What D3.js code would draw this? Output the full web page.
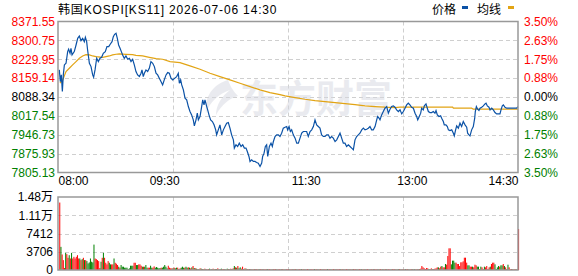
<!DOCTYPE html>
<html>
<head>
<meta charset="utf-8">
<script src="https://cdn.jsdelivr.net/npm/d3@7"></script>
<style>
body { margin: 0; background: #fff; }
text { font-family: Arial, "Liberation Sans", "Noto Sans CJK SC", sans-serif; font-size: 12px; }
</style>
</head>
<body>
<div id="chart"></div>
<script>
// Chart texts & ticks
var titleText = "韩国KOSPI[KS11] 2026-07-06 14:30";
var legendNames = ["价格", "均线"];
var prevClose = 8088.34;
var priceTicks = [8371.55, 8300.75, 8229.95, 8159.14, 8088.34, 8017.54, 7946.73, 7875.93, 7805.13];
var pctTicks = ["3.50%", "2.63%", "1.75%", "0.88%", "0.00%", "0.88%", "1.75%", "2.63%", "3.50%"];
var timeTicks = [0, 90, 210, 300, 390];
var timeLabels = ["08:00", "09:30", "11:30", "13:00", "14:30"];
var volTicks = [0, 3706, 7412, 11118, 14824];
var volLabels = ["0", "3706", "7412", "1.11万", "1.48万"];

// Price: [minutes since 08:00, index value]
var price = [
  [1.1,8189.9],[2.0,8146.2],[2.8,8171.2],[3.7,8108.7],[4.5,8171.2],[5.4,8208.6],[6.8,8214.9],[8.2,8258.6],[9.0,8267.3],[10.2,8252.3],
  [11.0,8271.1],[11.9,8246.1],[13.8,8258.6],[15.3,8283.5],[16.7,8308.5],[18.1,8317.3],[19.5,8299.8],[20.9,8308.5],[22.3,8296.0],[23.2,8312.3],
  [24.3,8296.0],[25.1,8264.8],[26.6,8214.9],[28.0,8202.4],[29.4,8171.2],[30.2,8162.4],[31.4,8189.9],[32.8,8233.6],[34.2,8221.1],[35.6,8233.6],
  [37.0,8237.3],[38.4,8252.3],[40.1,8258.6],[41.5,8277.3],[43.0,8277.3],[44.4,8287.3],[45.8,8296.0],[46.9,8314.8],[48.0,8323.5],[49.2,8327.3],
  [50.3,8308.5],[51.4,8283.5],[52.6,8271.1],[53.7,8258.6],[54.8,8246.1],[56.2,8233.6],[57.6,8242.3],[59.1,8229.9],[60.5,8233.6],[61.9,8221.1],
  [63.3,8229.9],[64.7,8208.6],[66.1,8183.7],[67.5,8171.2],[69.0,8164.9],[70.4,8177.4],[71.2,8189.9],[72.3,8164.9],[73.2,8177.4],[74.6,8189.9],
  [76.0,8183.7],[77.4,8196.1],[78.8,8221.1],[80.3,8214.9],[81.7,8202.4],[83.1,8177.4],[84.5,8171.2],[85.9,8158.7],[87.3,8146.2],[88.7,8133.7],
  [90.1,8152.4],[91.6,8171.2],[93.0,8179.9],[94.4,8177.4],[95.8,8158.7],[97.2,8152.4],
  [100.6,8164.9],[102.0,8177.4],[102.9,8139.9],[104.0,8152.4],[104.9,8133.7],[106.3,8115.0],[107.7,8083.8],[109.1,8077.5],[110.5,8052.5],[111.9,8033.8],
  [113.3,8021.3],[114.7,8002.6],[115.6,7980.1],[117.0,8002.6],[118.1,8027.6],[119.0,8002.6],[120.4,8015.1],[121.8,8052.5],[122.7,8077.5],[123.8,8058.8],
  [124.6,8077.5],[126.1,8052.5],[126.9,8040.1],[128.0,8021.3],[129.4,8002.6],[130.9,7996.3],[132.3,7983.9],[133.7,7965.1],[134.5,7946.4],[135.9,7965.1],
  [137.3,7983.9],[138.8,7946.4],[140.2,7965.1],[141.6,7977.6],[143.0,7990.1],[144.4,7992.6],[145.8,7971.4],[147.2,7946.4],[148.7,7927.7],[149.5,7896.5],
  [150.9,7908.9],[152.3,7902.7],[153.7,7915.2],[155.2,7902.7],[156.6,7908.9],[158.0,7896.5],[159.4,7896.5],[160.5,7884.0],[161.9,7865.2],[162.8,7846.5],
  [164.2,7852.7],[165.6,7846.5],[167.0,7846.5],[168.4,7842.8],[169.8,7840.3],[171.3,7827.8],[172.7,7840.3],[173.5,7865.2],[174.7,7877.7],[175.8,7902.7],
  [176.9,7908.9],[177.8,7865.2],[179.2,7902.7],[180.6,7915.2],[181.7,7902.7],[182.6,7921.4],[184.0,7940.2],[185.4,7946.4],[186.8,7946.4],[188.2,7940.2],
  [189.6,7952.6],[191.0,7971.4],[192.5,7975.1],
  [193.9,7977.6],[194.7,7965.1],[195.9,7977.6],[197.0,7958.9],[198.1,7965.1],[199.5,7946.4],[201.0,7933.9],[202.4,7915.2],[203.8,7915.2],[205.2,7933.9],
  [206.6,7952.6],[208.0,7958.9],[209.4,7958.9],[210.8,7958.9],[212.2,7940.2],[213.7,7958.9],[215.1,7965.1],[216.5,7977.6],[217.9,8002.6],[219.3,7983.9],
  [220.7,7977.6],[222.1,7971.4],[223.5,7946.4],[225.0,7940.2],[226.4,7940.2],[227.8,7946.4],[229.2,7946.4],[230.6,7933.9],[232.0,7940.2],[233.4,7933.9],
  [234.9,7921.4],[236.3,7927.7],[237.7,7940.2],[239.1,7952.6],[240.5,7933.9],[241.9,7915.2],[243.3,7915.2],[244.7,7902.7],[246.2,7908.9],[247.6,7902.7],
  [249.0,7896.5],[250.4,7890.2],[251.8,7927.7],[253.2,7940.2],[254.6,7946.4],[256.0,7952.6],[257.5,7965.1],[258.9,7971.4],[260.3,7965.1],[261.7,7967.6],
  [263.1,7971.4],[264.5,7977.6],[265.9,7965.1],[267.3,7965.1],[268.8,7977.6],[270.2,8002.6],[271.0,8015.1],[272.2,8008.8],[273.0,8002.6],[274.4,8021.3],
  [275.8,8033.8],[277.2,8046.3],[278.7,8052.5],[280.1,8027.6],[281.5,8042.5],[282.9,8052.5],[284.3,8055.0],[285.7,8050.0],[287.1,8040.1],[288.6,8033.8],
  [290.0,8040.1],
  [291.4,8025.1],[292.8,8033.8],[294.2,8046.3],[295.6,8058.8],[297.0,8065.0],[298.4,8058.8],[299.8,8050.0],[301.3,8046.3],[302.7,8027.6],[304.1,8015.1],
  [305.0,8002.6],[306.3,8015.1],[307.5,8027.6],[308.3,8046.3],[309.7,8040.1],[310.6,8055.0],[312.0,8062.5],[313.1,8046.3],[314.0,8033.8],[315.4,8030.1],
  [316.8,8030.1],[318.2,8033.8],[319.6,8027.6],[320.5,8037.6],[321.6,8021.3],[323.0,8015.1],[324.4,8017.6],[325.3,8008.8],[326.7,7996.3],[327.5,7983.9],
  [328.9,7983.9],[330.1,7977.6],[331.0,7965.1],[332.3,7962.6],[333.8,7965.1],[335.2,7952.6],[336.0,7942.7],[337.1,7965.1],[338.0,7980.1],[339.4,7971.4],
  [340.8,7990.1],[342.2,7977.6],[343.6,7996.3],[345.1,7983.9],[346.5,7975.1],[347.3,7952.6],[348.4,7946.4],[349.3,7942.7],[350.7,7965.1],[352.1,7977.6],
  [353.3,8008.8],[353.8,8033.8],[354.7,8052.5],[355.8,8042.5],[356.9,8037.6],[357.8,8046.3],[359.2,8050.0],[360.6,8055.0],[362.0,8062.5],[362.9,8065.0],
  [364.0,8055.0],[365.4,8050.0],[366.3,8040.1],[367.7,8046.3],[369.1,8040.1],[370.5,8030.1],[371.9,8025.1],[373.3,8025.1],[374.7,8025.1],[375.6,8040.1],
  [376.7,8055.0],[377.6,8058.8],[379.0,8050.0],[380.4,8046.3],[383.2,8046.3],[386.0,8046.3],[388.9,8046.3],[390.0,8052.5]
];

// Average line: [minutes since 08:00, value]
var avgLine = [
  [1.7,8140.0],[4.0,8152.4],[6.8,8183.7],[9.6,8196.1],[12.4,8208.6],[15.3,8221.1],[18.1,8233.6],[20.9,8242.3],[23.7,8247.3],[26.6,8246.1],
  [29.4,8242.3],[32.2,8239.8],[37.9,8237.3],[40.7,8239.8],[43.5,8242.3],[46.3,8246.1],[49.2,8248.6],[52.0,8249.8],[57.6,8248.6],[63.3,8247.3],
  [66.1,8244.8],[71.8,8242.3],[77.4,8237.3],[83.1,8232.3],[88.7,8229.9],[95.0,8221.1],[103.4,8217.4],[111.9,8204.9],[120.4,8192.4],[128.9,8177.4],
  [137.3,8164.9],[145.8,8152.4],[154.3,8139.9],[162.8,8127.5],[171.3,8115.0],[179.7,8105.0],[188.2,8097.5],[192.5,8092.5],[201.0,8086.3],[209.4,8080.0],
  [217.9,8075.0],[226.4,8071.3],[234.9,8067.5],[243.3,8063.8],[251.8,8060.0],[260.3,8055.0],[268.8,8052.5],[277.2,8050.0],[285.7,8048.8],[290.0,8050.0],
  [334.6,8050.0],[335.2,8046.3],[350.7,8046.3],[352.1,8042.5],[390.0,8042.5]
];

// Volume per minute (positive = up bar / red, negative = down bar / green)
var volume = [
  13700,-4700,3150,2000,400,-3480,3220,2480,-3010,2340,
  -3480,2340,2680,2340,2680,3010,2340,-2340,2010,-2210,
  2480,-2010,2010,-1810,-1340,-1540,-2340,-1680,-1540,-5160,
  2340,2210,2010,1810,400,-1680,2480,-3480,2480,1470,
  1140,1810,-1470,-1140,1140,1140,-2340,1470,1270,1010,
  -670,470,-1010,-670,-670,-470,-470,-470,-200,-340,
  -870,-870,-870,1470,1470,-1010,-1010,1140,1140,870,
  -670,670,-670,-1010,-470,470,470,-870,-470,470,
  740,-470,-600,-470,-340,-400,470,-470,-670,-1010,
  -670,-340,870,470,340,340,-340,470,-340,-470,
  470,-200,340,-470,-670,-470,470,-670,-470,540,
  -470,340,-540,810,-400,340,-270,200,-200,340,
  -270,200,-140,270,-200,140,200,-270,140,-200,
  270,-140,200,-200,340,-140,200,-270,140,200,
  -200,140,-270,200,-140,270,-200,340,-810,540,
  -470,810,-340,-540,270,680,-200,340,-270,200,
  140,-200,200,-140,140,200,-140,200,140,-200,
  200,140,-140,200,140,200,-200,140,200,140,
  -140,200,140,200,-140,140,200,140,-140,200,
  140,-140,200,140,200,-140,140,200,-140,140,
  200,-140,140,200,140,-200,140,200,-140,140,
  200,140,-140,200,140,140,-200,140,200,-140,
  140,200,140,-140,200,140,140,-200,140,200,
  -140,140,200,140,-140,200,140,200,-140,140,
  200,-140,140,200,140,-140,200,140,-140,200,
  140,200,-140,140,200,140,-200,140,200,-140,
  140,200,140,-140,200,140,-140,200,140,200,
  -140,140,200,140,-200,140,200,-140,140,200,
  140,-140,200,140,200,-140,140,-200,200,140,
  -140,200,140,-200,140,200,-140,140,200,-140,
  140,-200,140,200,-140,200,270,810,540,340,
  200,410,340,-200,-140,340,-140,200,270,340,
  540,-540,340,680,-810,540,540,-1220,1080,2840,
  4400,4400,-1150,-1900,-1900,-1490,1490,1220,1220,810,
  1560,1560,1760,2500,2500,1490,-950,-950,680,680,
  -680,540,1080,950,-680,-680,200,-680,540,200,
  -680,540,810,200,540,-680,1220,1490,1490,-1150,
  -200,-540,-810,680,-950,-950,1220,-810,540,200,
  -1080,540,140,200,-140,140,200,-140,140,8320
];

// Size of svg & panels
var svgWidth = 578;
var svgHeight = 276;
var plotLeft = 58;
var plotRight = 518;
var priceTop = 21.5;
var priceBottom = 172.5;
var volTop = 197;
var volBottom = 270;

var upColor = "#ff0000";
var downColor = "#008000";
var flatColor = "#000000";
var lineColor = "#0b52a6";
var avgColor = "#e2a414";

var svg = d3.select("#chart")
    .append("svg")
    .attr("width", svgWidth)
    .attr("height", svgHeight);

// Scales
var xScale = d3.scaleLinear().domain([0, 390]).range([plotLeft, plotRight]);
var yPrice = d3.scaleLinear().domain([priceTicks[8], priceTicks[0]]).range([priceBottom, priceTop]);
var yVol = d3.scaleLinear().domain([0, volTicks[4]]).range([volBottom, volTop]);

function tickColor(v) {
    if (Math.abs(v - prevClose) < 0.01) return flatColor;
    return v > prevClose ? upColor : downColor;
}

// Dashed grid lines
var gridGroup = svg.append("g")
    .attr("stroke", "#cfcfcf")
    .attr("stroke-dasharray", "4,3")
    .attr("stroke-width", 1);

var vGrid = d3.range(1, 4).map(i => 390 * i / 4);

gridGroup.selectAll(".hp")
    .data(priceTicks.slice(1, 8))
    .enter()
    .append("line")
    .attr("x1", plotLeft).attr("x2", plotRight)
    .attr("y1", d => Math.round(yPrice(d)) + 0.5)
    .attr("y2", d => Math.round(yPrice(d)) + 0.5);

gridGroup.selectAll(".hv")
    .data(volTicks.slice(1, 4))
    .enter()
    .append("line")
    .attr("x1", plotLeft).attr("x2", plotRight)
    .attr("y1", d => Math.round(yVol(d)) + 0.5)
    .attr("y2", d => Math.round(yVol(d)) + 0.5);

gridGroup.selectAll(".vp")
    .data(vGrid)
    .enter()
    .append("line")
    .attr("x1", d => Math.round(xScale(d)) + 0.5)
    .attr("x2", d => Math.round(xScale(d)) + 0.5)
    .attr("y1", priceTop).attr("y2", priceBottom);

gridGroup.selectAll(".vv")
    .data(vGrid)
    .enter()
    .append("line")
    .attr("x1", d => Math.round(xScale(d)) + 0.5)
    .attr("x2", d => Math.round(xScale(d)) + 0.5)
    .attr("y1", volTop).attr("y2", volBottom);

// Watermark
var mark = svg.append("g").attr("opacity", 0.5);
mark.append("path")
    .attr("d", "M228,80 C214,84 204,96 206,113 C210,102 218,94 230,90 C222,96 216,105 216,115 C222,104 230,98 238,96 C232,90 230,85 228,80 Z")
    .attr("fill", "#d5d7e0");
mark.append("text")
    .attr("x", 240)
    .attr("y", 112)
    .attr("fill", "#d5d7e0")
    .style("font-family", "'Noto Sans CJK SC', sans-serif")
    .style("font-size", "38px")
    .style("font-weight", "bold")
    .text("东方财富");

// Volume bars
svg.append("g")
    .selectAll("rect")
    .data(volume)
    .enter()
    .append("rect")
    .attr("x", (d, i) => xScale(i + 1.5) - 0.5)
    .attr("width", 1)
    .attr("y", d => yVol(Math.abs(d)))
    .attr("height", d => volBottom - yVol(Math.abs(d)))
    .attr("fill", d => d >= 0 ? upColor : downColor);

// Average & price lines
var line = d3.line()
    .x(d => xScale(d[0]))
    .y(d => yPrice(d[1]));

svg.append("path")
    .datum(avgLine)
    .attr("d", line)
    .attr("fill", "none")
    .attr("stroke", avgColor)
    .attr("stroke-width", 1.2);

svg.append("path")
    .datum(price)
    .attr("d", line)
    .attr("fill", "none")
    .attr("stroke", lineColor)
    .attr("stroke-width", 1.2);

// Panel borders
[[priceTop, priceBottom], [volTop, volBottom]].forEach(p => {
    svg.append("rect")
        .attr("x", plotLeft)
        .attr("y", p[0])
        .attr("width", plotRight - plotLeft)
        .attr("height", p[1] - p[0])
        .attr("fill", "none")
        .attr("stroke", "#999")
        .attr("stroke-width", 1.5);
});

// Left price axis
var leftAxis = d3.axisLeft(yPrice).tickValues(priceTicks).tickSize(0).tickPadding(3)
    .tickFormat(d3.format(".2f"));
var gLeft = svg.append("g")
    .attr("transform", `translate(${plotLeft}, 0)`)
    .call(leftAxis);
gLeft.select(".domain").remove();
gLeft.selectAll("text").attr("fill", d => tickColor(d)).style("font-size", "12px");

// Right percent axis
var rightAxis = d3.axisRight(yPrice).tickValues(priceTicks).tickSize(0).tickPadding(6)
    .tickFormat((d, i) => pctTicks[i]);
var gRight = svg.append("g")
    .attr("transform", `translate(${plotRight}, 0)`)
    .call(rightAxis);
gRight.select(".domain").remove();
gRight.selectAll("text").attr("fill", d => tickColor(d)).style("font-size", "12px");

// Time axis
var bottomAxis = d3.axisBottom(xScale).tickValues(timeTicks).tickSize(0).tickPadding(4)
    .tickFormat((d, i) => timeLabels[i]);
var gBottom = svg.append("g")
    .attr("transform", `translate(0, ${priceBottom})`)
    .call(bottomAxis);
gBottom.select(".domain").remove();
gBottom.selectAll("text")
    .attr("fill", "#000")
    .style("font-size", "12px")
    .attr("text-anchor", (d, i) => i == 0 ? "start" : (i == timeTicks.length - 1 ? "end" : "middle"));

// Volume axis
var volAxis = d3.axisLeft(yVol).tickValues(volTicks).tickSize(0).tickPadding(5)
    .tickFormat((d, i) => volLabels[i]);
var gVol = svg.append("g")
    .attr("transform", `translate(${plotLeft}, 0)`)
    .call(volAxis);
gVol.select(".domain").remove();
gVol.selectAll("text").attr("fill", "#000").style("font-size", "12px");

// Title
svg.append("text")
    .attr("x", plotLeft)
    .attr("y", 14)
    .attr("fill", "#000")
    .style("font-size", "12px")
    .style("letter-spacing", "0.85px")
    .text(titleText);

// Legend
var legend = svg.append("g");
legend.append("text").attr("x", 432).attr("y", 14).attr("fill", "#000").text(legendNames[0]);
legend.append("rect").attr("x", 462).attr("y", 6).attr("width", 6).attr("height", 3).attr("fill", lineColor);
legend.append("text").attr("x", 477).attr("y", 14).attr("fill", "#000").text(legendNames[1]);
legend.append("rect").attr("x", 508).attr("y", 6).attr("width", 6).attr("height", 3).attr("fill", avgColor);
</script>
</body>
</html>
